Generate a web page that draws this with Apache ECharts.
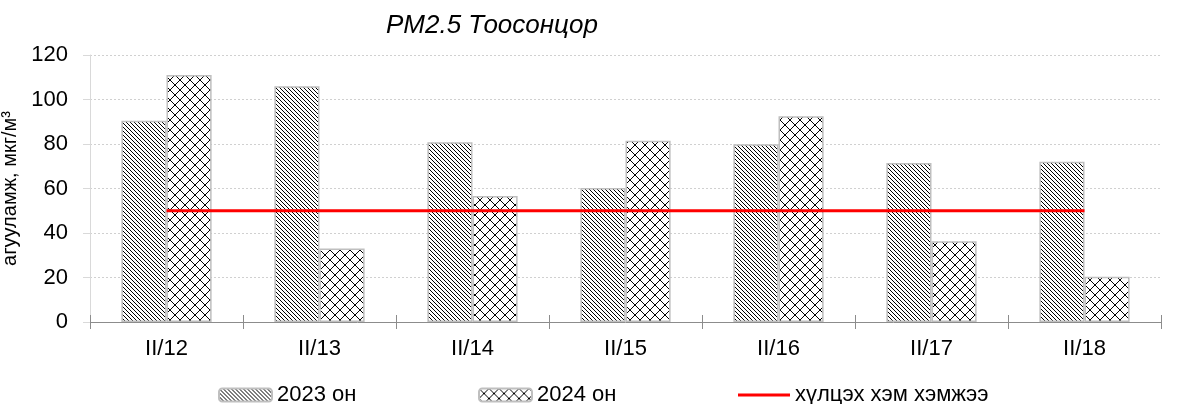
<!DOCTYPE html>
<html><head><meta charset="utf-8">
<script src="https://cdn.jsdelivr.net/npm/echarts@6/dist/echarts.min.js"></script>
<style>html,body{margin:0;padding:0;background:#fff}#c{width:1183px;height:404px}</style>
</head><body><div id="c"></div>
<script>
const categories = ['II/12','II/13','II/14','II/15','II/16','II/17','II/18'];
const values2023 = [90.5, 106, 80.8, 60.2, 79.9, 71.5, 72];
const values2024 = [111, 33, 56.6, 81.5, 92.5, 36.3, 20.3];
const limitValues = [50, 50, 50, 50, 50, 50, 50];
const yTicks = [0, 20, 40, 60, 80, 100, 120];
const legendNames = ['2023 он', '2024 он', 'хүлцэх хэм хэмжээ'];

function diagPattern(){
  const s = 4, c = document.createElement('canvas');
  c.width = s; c.height = s;
  const g = c.getContext('2d');
  g.fillStyle = '#fff'; g.fillRect(0,0,s,s);
  g.fillStyle = '#000';
  for(let i=0;i<s;i++){ g.fillRect(i,i,1,1); }
  return c;
}
function crossPattern(){
  const s = 10, c = document.createElement('canvas');
  c.width = s; c.height = s;
  const g = c.getContext('2d');
  g.fillStyle = '#fff'; g.fillRect(0,0,s,s);
  g.fillStyle = '#000';
  for(let i=0;i<s;i++){ g.fillRect(i,i,1,1); g.fillRect(s-1-i,i,1,1); }
  return c;
}
const chart = echarts.init(document.getElementById('c'));
const font = 'Liberation Sans, Arial, sans-serif';
const legText = {fontFamily:font, fontSize:22, color:'#000'};
chart.setOption({
  animation:false,
  textStyle:{fontFamily:font},
  title:{text:'PM2.5 Тоосонцор', left:381, top:8, textStyle:{fontFamily:font, fontStyle:'italic', fontWeight:'normal', fontSize:26, color:'#000'}},
  grid:{left:90, right:22, top:55, bottom:82, outerBoundsMode:'none', containLabel:false},
  legend:[
    {left:213, top:379, itemWidth:53, itemHeight:13, textStyle:legText, data:[legendNames[0]]},
    {left:473, top:379, itemWidth:53, itemHeight:13, textStyle:legText, data:[legendNames[1]]},
    {left:733, top:379, itemWidth:52, itemHeight:13, textStyle:legText,
      data:[{name:legendNames[2], icon:'path://M0,0 L52,0 L52,3 L0,3 Z', itemStyle:{color:'#ff0000'}}]}
  ],
  xAxis:[{type:'category', data:categories, boundaryGap:true,
    axisLine:{lineStyle:{color:'#8c8c8c', width:1}},
    axisTick:{show:true, length:7, lineStyle:{color:'#8c8c8c'}},
    axisLabel:{fontFamily:font, fontSize:22, color:'#000', margin:16}},
    {type:'category', data:categories, boundaryGap:true, position:'bottom',
    axisLine:{show:false}, axisTick:{show:true, inside:true, length:7, lineStyle:{color:'#8c8c8c'}}, axisLabel:{show:false}}],
  yAxis:{type:'value', min:0, max:120, interval:20,
    name:'агууламж, мкг/м³', nameLocation:'middle', nameGap:57, nameRotate:90,
    nameTextStyle:{fontFamily:font, fontSize:20, color:'#000'},
    axisLine:{show:true, lineStyle:{color:'#d9d9d9', width:1}},
    axisTick:{show:true, length:7, lineStyle:{color:'#d9d9d9'}},
    axisLabel:{fontFamily:font, fontSize:22, color:'#000', margin:22,
      formatter:v=> yTicks.includes(v) ? String(v) : ''},
    splitLine:{lineStyle:{color:'#d0d0d0', type:[2,2], width:1}}},
  series:[
    {name:legendNames[0], type:'bar', data:values2023, barGap:'0%', barCategoryGap:'41%',
      itemStyle:{color:{image:diagPattern(), repeat:'repeat'}, borderColor:'#bfbfbf', borderWidth:1.5}},
    {name:legendNames[1], type:'bar', data:values2024, barGap:'0%', barCategoryGap:'41%',
      itemStyle:{color:{image:crossPattern(), repeat:'repeat'}, borderColor:'#bfbfbf', borderWidth:1.5}},
    {name:legendNames[2], type:'line', data:limitValues, symbol:'none', z:5,
      lineStyle:{color:'#ff0000', width:3}, itemStyle:{color:'#ff0000'}}
  ]
});
</script></body></html>
